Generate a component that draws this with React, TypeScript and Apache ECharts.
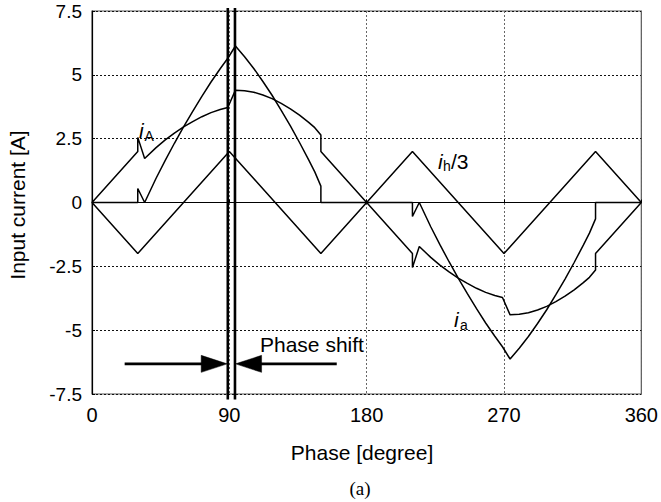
import React, { useEffect, useRef } from "react";
import * as echarts from "echarts";

// Axis ticks
const xMin = 0;
const xMax = 360;
const xStep = 90;
const yMin = -7.5;
const yMax = 7.5;
const yStep = 2.5;

// i_h/3 (triangular wave)
const ihPhase = [0, 30, 90, 150, 210, 270, 330, 360];
const ihValue = [0, -2, 2, -2, 2, -2, 2, 0];

// i_A
const iAPhase = [
  0, 30, 30, 34.5, 42, 48, 54, 60, 66, 72, 78, 84, 89, 94, 100, 106, 112, 118, 124, 130, 136, 142, 146, 150, 150, 180,
  210, 210, 214.5, 222, 228, 234, 240, 246, 252, 258, 264, 269, 274, 280, 286, 292, 298, 304, 310, 316, 322, 326, 330, 330, 360,
];
const iAValue = [
  0, 2, 2.55, 1.72, 2.15, 2.45, 2.72, 2.96, 3.17, 3.36, 3.52, 3.64, 3.72, 4.4, 4.38, 4.32, 4.21, 4.07, 3.88, 3.67, 3.42, 3.14, 2.93, 2.64, 2, 0,
  -2, -2.55, -1.72, -2.15, -2.45, -2.72, -2.96, -3.17, -3.36, -3.52, -3.64, -3.72, -4.4, -4.38, -4.32, -4.21, -4.07, -3.88, -3.67, -3.42, -3.14, -2.93, -2.64, -2, 0,
];

// i_a
const iaPhase = [
  0, 30, 30, 34.5, 42, 48, 54, 60, 66, 72, 78, 84, 89, 94, 100, 106, 112, 118, 124, 130, 136, 142, 146, 150, 150, 180,
  210, 210, 214.5, 222, 228, 234, 240, 246, 252, 258, 264, 269, 274, 280, 286, 292, 298, 304, 310, 316, 322, 326, 330, 330, 360,
];
const iaValue = [
  0, 0, 0.55, 0, 0.95, 1.65, 2.32, 2.96, 3.57, 4.16, 4.72, 5.24, 5.65, 6.13, 5.71, 5.25, 4.74, 4.2, 3.61, 3.0, 2.35, 1.67, 1.2, 0.64, 0, 0,
  0, -0.55, 0, -0.95, -1.65, -2.32, -2.96, -3.57, -4.16, -4.72, -5.24, -5.65, -6.13, -5.71, -5.25, -4.74, -4.2, -3.61, -3.0, -2.35, -1.67, -1.2, -0.64, 0, 0,
];

// Phase-shift markers
const shiftLines = [89, 93.7];
const shiftLineTop = 7.62;
const shiftLineBottom = -7.72;
const arrowLevel = -6.32;
const leftArrow = [21.4, 88.6];
const rightArrow = [160.4, 94.1];

const FONT = "'Liberation Sans', Arial, Helvetica, sans-serif";

export default function App() {
  const ref = useRef<HTMLDivElement>(null);

  useEffect(() => {
    const chart = echarts.init(ref.current!, null, { renderer: "svg" });
    const pairs = (xs: number[], ys: number[]) => xs.map((x, i) => [x, ys[i]]);

    const curve = (name: string, xs: number[], ys: number[]) => ({
      name,
      type: "line",
      data: pairs(xs, ys),
      symbol: "none",
      showSymbol: false,
      lineStyle: { color: "#000", width: 1.5 },
      z: 5,
    });

    const option: any = {
      animation: false,
      backgroundColor: "#fff",
      grid: {
        left: 92,
        top: 11,
        width: 555,
        height: 383,
        show: true,
        borderColor: "#555",
        borderWidth: 1.2,
        backgroundColor: "transparent",
      },
      xAxis: {
        type: "value",
        min: xMin,
        max: xMax,
        interval: xStep,
        axisLine: { show: true, lineStyle: { color: "#000", width: 1.2 } },
        axisTick: { show: true, inside: true, length: 3, lineStyle: { color: "#000" } },
        axisLabel: { color: "#000", fontSize: 20, fontFamily: FONT, margin: 11 },
        splitLine: { show: true, lineStyle: { color: "#666", type: [2, 2], width: 1 } },
      },
      yAxis: {
        type: "value",
        min: yMin,
        max: yMax,
        interval: yStep,
        axisLine: { show: true, lineStyle: { color: "#000", width: 1.2 } },
        axisTick: { show: true, inside: true, length: 3, lineStyle: { color: "#000" } },
        axisLabel: { color: "#000", fontSize: 19, fontFamily: FONT, margin: 10 },
        splitLine: { show: true, lineStyle: { color: "#111", type: [2, 2], width: 1 } },
      },
      series: [
        curve("ih/3", ihPhase, ihValue),
        curve("iA", iAPhase, iAValue),
        curve("ia", iaPhase, iaValue),
        ...shiftLines.map((p) => ({
          name: "shift" + p,
          type: "line",
          data: [
            [p, shiftLineTop],
            [p, shiftLineBottom],
          ],
          clip: false,
          symbol: "none",
          showSymbol: false,
          lineStyle: { color: "#000", width: 2.6 },
          z: 6,
        })),
      ],
    };
    chart.setOption(option);

    const px = (x: number, y: number) => chart.convertToPixel({ gridIndex: 0 }, [x, y]) as number[];
    const headLen = 26;
    const headHalf = 8.5;
    const arrowGraphics = (from: number, to: number) => {
      const a = px(from, arrowLevel);
      const b = px(to, arrowLevel);
      const dir = b[0] > a[0] ? 1 : -1;
      const base = b[0] - dir * headLen;
      return [
        {
          type: "line",
          shape: { x1: a[0], y1: a[1], x2: base + dir * 2, y2: b[1] },
          style: { stroke: "#000", lineWidth: 2.6 },
          z: 20,
        },
        {
          type: "polygon",
          shape: {
            points: [
              [b[0], b[1]],
              [base, b[1] - headHalf],
              [base, b[1] + headHalf],
            ],
          },
          style: { fill: "#000", stroke: "#000", lineWidth: 0.5 },
          z: 20,
        },
      ];
    };

    const txt = (text: string, x: number, y: number, size: number, extra: any = {}) => ({
      type: "text",
      x,
      y,
      z: 30,
      style: {
        text,
        fill: "#000",
        font: `${extra.italic ? "italic " : ""}${size}px ${extra.family || FONT}`,
        textAlign: extra.align || "left",
        textVerticalAlign: "middle",
      },
      rotation: extra.rotation || 0,
    });

    chart.setOption({
      graphic: [
        ...arrowGraphics(leftArrow[0], leftArrow[1]),
        ...arrowGraphics(rightArrow[0], rightArrow[1]),
        txt("Phase shift", 260, 344, 21),
        txt("Phase [degree]", 362, 452, 21, { align: "center" }),
        txt("Input current [A]", 17.5, 205, 21, { align: "center", rotation: Math.PI / 2 }),
        txt("(a)", 360, 488, 19, { align: "center", family: "'Liberation Serif', 'Times New Roman', serif" }),
        txt("i", 139, 130.5, 21, { italic: true }),
        txt("A", 144.5, 136, 14),
        txt("i", 438, 161, 21, { italic: true }),
        txt("h", 443, 166, 14),
        txt("/3", 451, 161, 21),
        txt("i", 454, 319, 21, { italic: true }),
        txt("a", 460, 325, 14),
      ],
    });

    return () => chart.dispose();
  }, []);

  return (
    <div
      ref={ref}
      style={{ position: "fixed", left: 0, top: 0, width: 661, height: 502, background: "#fff" }}
    />
  );
}
